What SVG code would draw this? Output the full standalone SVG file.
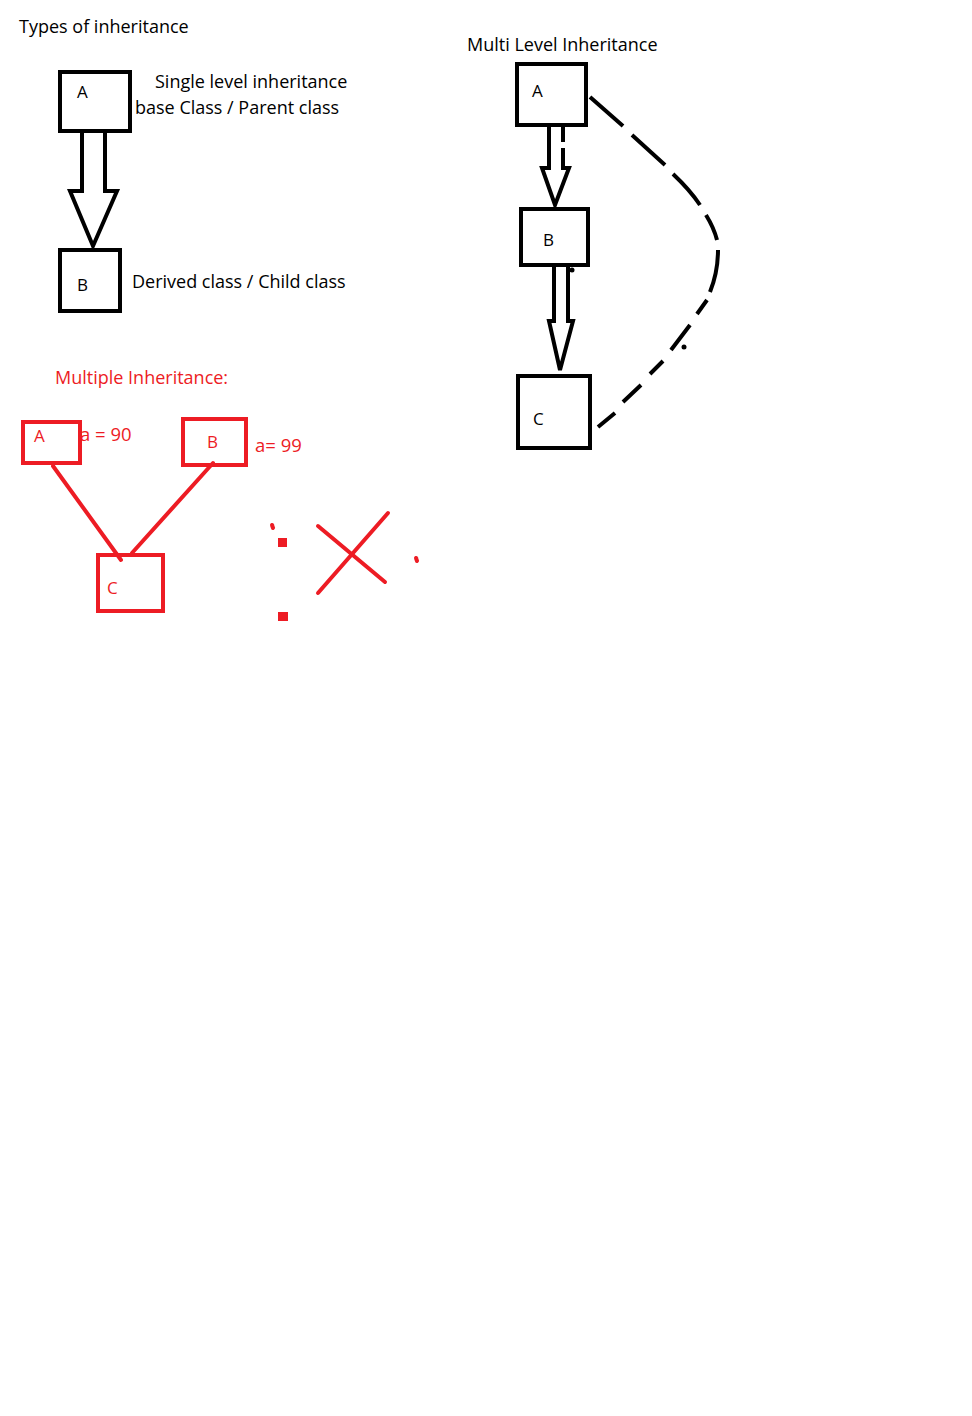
<svg xmlns="http://www.w3.org/2000/svg" width="972" height="1416" viewBox="0 0 972 1416">
<style>
text{font-family:"Open Sans","Noto Sans",sans-serif;}
.t{font-size:18px;fill:#000;}
.s{font-size:17px;fill:#000;}
.rt{font-size:18px;fill:#ED1C24;}
.rs{font-size:17px;fill:#ED1C24;}
.rv{font-size:18.5px;fill:#ED1C24;}
.box{fill:none;stroke:#000;stroke-width:4;}
.rbox{fill:none;stroke:#ED1C24;stroke-width:4;}
.arr{fill:#fff;stroke:#000;stroke-width:4;stroke-linejoin:miter;}
.rl{stroke:#ED1C24;stroke-width:4;fill:none;stroke-linecap:round;}
.dash{stroke:#000;stroke-width:4;fill:none;}
</style>
<rect width="972" height="1416" fill="#fff"/>
<text class="t" x="19" y="33">Types of inheritance</text>
<text class="t" x="155" y="88">Single level inheritance</text>
<text class="t" x="135" y="114">base Class / Parent class</text>
<text class="t" x="132" y="288">Derived class / Child class</text>
<text class="t" x="467" y="51">Multi Level Inheritance</text>
<text class="rt" x="55" y="384">Multiple Inheritance:</text>
<text class="rv" x="80" y="441">a = 90</text>
<text class="rv" x="255" y="452">a= 99</text>

<g id="connectors">
  <path class="arr" d="M82,133 L82,191 L70,191 L93,246 L117,191 L105,191 L105,133"/>
  <path class="arr" d="M549,127 L549,168 L542,168 L555,205 L569,168 L563,168 L563,127"/>
  <path d="M563,134 V168" stroke="#fff" stroke-width="5" stroke-dasharray="0 8 6 40" fill="none"/>
  <path class="arr" d="M554,267 L554,321 L549,321 L560,370 L573,321 L568,321 L568,267"/>
  <circle cx="572" cy="270" r="2.5" fill="#000"/>
  <path class="dash" d="M590,97 L623,126 M632,135 L665,165 M673,174 Q690,190 700,205 M706,215 Q714,228 717,240 M718,250 Q718,272 710,292 M707,300 L697,314 M690,325 L671,350 M663,361 L650,374 M641,385 L623,402 M615,413 L598,427"/>
  <circle cx="684" cy="347" r="2.5" fill="#000"/>
  <line class="rl" x1="53" y1="466" x2="121" y2="560"/>
  <line class="rl" x1="213" y1="463" x2="132" y2="553"/>
</g>

<g id="single-A"><rect class="box" x="60" y="72" width="70" height="59"/><text class="s" x="77" y="98">A</text></g>
<g id="single-B"><rect class="box" x="60" y="250" width="60" height="61"/><text class="s" x="77" y="291">B</text></g>

<g id="multi-A"><rect class="box" x="517" y="64" width="69" height="61"/><text class="s" x="532" y="97">A</text></g>
<g id="multi-B"><rect class="box" x="521" y="209" width="67" height="56"/><text class="s" x="543" y="246">B</text></g>
<g id="multi-C"><rect class="box" x="518" y="376" width="72" height="72"/><text class="s" x="533" y="425">C</text></g>

<g id="mi-A"><rect class="rbox" x="23" y="422" width="57" height="41"/><text class="rs" x="34" y="442">A</text></g>
<g id="mi-B"><rect class="rbox" x="183" y="419" width="63" height="46"/><text class="rs" x="207" y="448">B</text></g>
<g id="mi-C"><rect class="rbox" x="98" y="555" width="65" height="56"/><text class="rs" x="107" y="594">C</text></g>

<g id="marks">
  <line class="rl" x1="272" y1="525" x2="273" y2="528"/>
  <rect x="278" y="538" width="9" height="9" fill="#ED1C24"/>
  <rect x="278" y="612" width="10" height="9" fill="#ED1C24"/>
  <line class="rl" x1="318" y1="526" x2="385" y2="582"/>
  <line class="rl" x1="388" y1="513" x2="318" y2="593"/>
  <line class="rl" x1="416" y1="558" x2="417" y2="561"/>
</g>
</svg>
